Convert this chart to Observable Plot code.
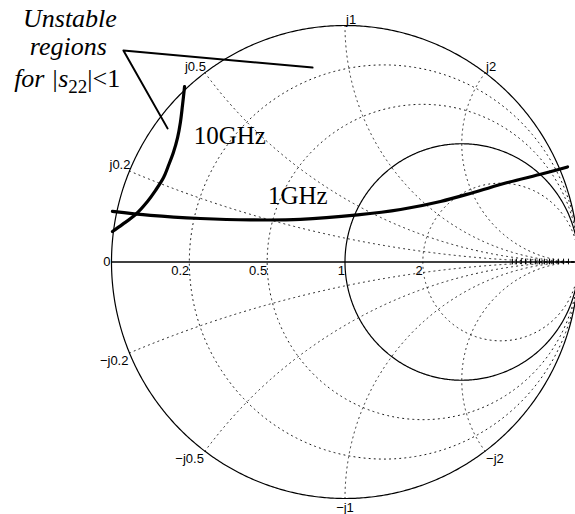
<!DOCTYPE html>
<html>
<head>
<meta charset="utf-8">
<script src="https://cdn.jsdelivr.net/npm/d3@7"></script>
<script src="https://cdn.jsdelivr.net/npm/@observablehq/plot@0.6"></script>
<style>
  html, body { margin: 0; padding: 0; background: #fff; overflow: hidden; }
</style>
</head>
<body>
<div id="chart"></div>
<script>
// Smith chart grid: normalised resistance circles and reactance arcs
const dottedResistance = [0.2, 0.5, 2];
const solidResistance = [0, 1];
const gridReactance = [0.2, 0.5, 1, 2, -0.2, -0.5, -1, -2];
const resistanceLabels = [0, 0.2, 0.5, 1, 2];
const reactanceLabels = [0.2, 0.5, 1, 2, -0.2, -0.5, -1, -2];
// fine tick marks on the real axis towards the open-circuit end (reflection coefficient)
const axisTicks = [0.717, 0.734, 0.755, 0.773, 0.794, 0.815, 0.833, 0.854, 0.876, 0.893, 0.914, 0.936, 0.957];

// Output stability circles, drawn as the arcs inside the chart (Re / Im of reflection coefficient)
const arc1GHzRe = [-0.996, -0.833, -0.619, -0.405, -0.191, 0.054, 0.238, 0.409, 0.550, 0.696, 0.850, 0.953];
const arc1GHzIm = [0.214, 0.197, 0.184, 0.178, 0.180, 0.199, 0.222, 0.256, 0.294, 0.336, 0.374, 0.402];
const arc10GHzRe = [-0.996, -0.953, -0.897, -0.846, -0.812, -0.777, -0.756, -0.735, -0.717, -0.705, -0.696, -0.687];
const arc10GHzIm = [0.129, 0.159, 0.201, 0.256, 0.302, 0.357, 0.408, 0.463, 0.526, 0.590, 0.662, 0.742];

// Annotation text and its pointer lines
const noteLines = ["Unstable", "regions", "for |s22|<1"];
const noteRe = [-1.178, -1.185, -1.19];
const noteIm = [0.9945, 0.876, 0.742];
const pointerRe = [-0.139, -0.949, -0.760];
const pointerIm = [0.822, 0.894, 0.565];
const curveLabels = ["10GHz", "1GHz"];
const curveLabelRe = [-0.648, -0.33];
const curveLabelIm = [0.497, 0.245];

// reflection coefficient of a normalised impedance r + jx
const gamma = (r, x) => {
  const d = (r + 1) ** 2 + x * x;
  return [(r * r + x * x - 1) / d, (2 * x) / d];
};

const N = 720;
const resistanceCircle = (r) => d3.range(N + 1).map((i) => {
  const t = -Math.PI / 2 + 1e-4 + (i / N) * (Math.PI - 2e-4);
  const [re, im] = gamma(r, Math.tan(t));
  return {id: "r" + r, re, im};
});
const reactanceArc = (x) => d3.range(N + 1).map((i) => {
  const t = (i / N) * (Math.PI / 2 - 1e-4);
  const [re, im] = gamma(Math.tan(t), x);
  return {id: "x" + x, re, im};
});

const dottedGrid = [
  ...dottedResistance.flatMap(resistanceCircle),
  ...gridReactance.flatMap(reactanceArc)
];
const solidGrid = solidResistance.flatMap(resistanceCircle);

const arc1GHz = arc1GHzRe.map((re, i) => ({re, im: arc1GHzIm[i]}));
const arc10GHz = arc10GHzRe.map((re, i) => ({re, im: arc10GHzIm[i]}));
const pointer = pointerRe.map((re, i) => ({re, im: pointerIm[i]}));
const notes = noteLines.map((text, i) => ({text, re: noteRe[i], im: noteIm[i]}));
const curveNotes = curveLabels.map((text, i) => ({text, re: curveLabelRe[i], im: curveLabelIm[i]}));

const rLab = resistanceLabels.map((r) => {
  const [re, im] = gamma(r, 0);
  return {text: String(r), r, re, im};
});
const xLab = reactanceLabels.map((x) => {
  const [re, im] = gamma(0, x);
  return {text: (x < 0 ? "\u2212" : "") + "j" + Math.abs(x), x, re, im};
});

const sans = "Liberation Sans, Arial, Helvetica, sans-serif";
const serif = "Liberation Serif, Times New Roman, serif";
const labelFont = {fontFamily: sans, fontSize: 13, fill: "black"};

const chart = Plot.plot({
  width: 575,
  height: 514,
  x: {domain: [-1, 1], range: [111, 578], axis: null},
  y: {domain: [-1, 1], range: [498, 25], axis: null},
  marks: [
    Plot.line(dottedGrid, {x: "re", y: "im", z: "id", stroke: "#1a1a1a", strokeWidth: 1, strokeDasharray: "1.1 4"}),
    Plot.ruleX(axisTicks, {x: (d) => d, y1: -0.012, y2: 0.012, stroke: "black", strokeWidth: 1}),
    Plot.line(solidGrid, {x: "re", y: "im", z: "id", stroke: "black", strokeWidth: 1.2}),
    Plot.ruleY([0], {x1: -1, x2: 1, stroke: "black", strokeWidth: 1.3}),
    Plot.line(arc1GHz, {x: "re", y: "im", curve: "catmull-rom", stroke: "black", strokeWidth: 3.2, strokeLinecap: "round"}),
    Plot.line(arc10GHz, {x: "re", y: "im", curve: "catmull-rom", stroke: "black", strokeWidth: 3.2, strokeLinecap: "round"}),
    Plot.line(pointer, {x: "re", y: "im", stroke: "black", strokeWidth: 2}),
    // real-axis labels
    Plot.text(rLab.filter((d) => d.r === 0), {x: "re", y: "im", text: "text", textAnchor: "end", lineAnchor: "middle", dx: -1, ...labelFont}),
    Plot.text(rLab.filter((d) => d.r > 0), {x: "re", y: "im", text: "text", textAnchor: "end", lineAnchor: "top", dy: 4, ...labelFont}),
    // reactance labels round the rim
    Plot.text(xLab.filter((d) => d.x > 0 && d.re < 0), {x: "re", y: "im", text: "text", textAnchor: "end", lineAnchor: "bottom", dx: 1, dy: -2, ...labelFont}),
    Plot.text(xLab.filter((d) => d.x > 0 && d.re >= 0), {x: "re", y: "im", text: "text", textAnchor: "start", lineAnchor: "bottom", dx: 1, dy: -2, ...labelFont}),
    Plot.text(xLab.filter((d) => d.x < 0 && d.re < 0), {x: "re", y: "im", text: "text", textAnchor: "end", lineAnchor: "top", dx: -1, dy: 3, ...labelFont}),
    Plot.text(xLab.filter((d) => d.x < 0 && d.re > 0.01), {x: "re", y: "im", text: "text", textAnchor: "start", lineAnchor: "top", dx: 1, dy: 3, ...labelFont}),
    Plot.text(xLab.filter((d) => d.x < 0 && Math.abs(d.re) <= 0.01), {x: "re", y: "im", text: "text", textAnchor: "middle", lineAnchor: "top", dy: 4, ...labelFont}),
    // annotations
    Plot.text(notes, {x: "re", y: "im", text: "text", textAnchor: "middle", lineAnchor: "bottom", fontFamily: serif, fontStyle: "italic", fontSize: 26, fill: "black"}),
    Plot.text(curveNotes, {x: "re", y: "im", text: "text", textAnchor: "start", lineAnchor: "bottom", fontFamily: serif, fontSize: 25, fill: "black"})
  ]
});

// typeset |s22| with an upright subscript
d3.select(chart).selectAll("text")
  .filter(function () { return this.textContent === "for |s22|<1"; })
  .each(function () {
    const t = d3.select(this);
    t.text(null);
    t.append("tspan").text("for |");
    t.append("tspan").text("s");
    t.append("tspan").attr("font-style", "normal").attr("font-size", "19px").attr("dy", "6").text("22");
    t.append("tspan").attr("font-style", "normal").attr("dy", "-6").text("|<1");
  });

document.getElementById("chart").appendChild(chart);
</script>
</body>
</html>
